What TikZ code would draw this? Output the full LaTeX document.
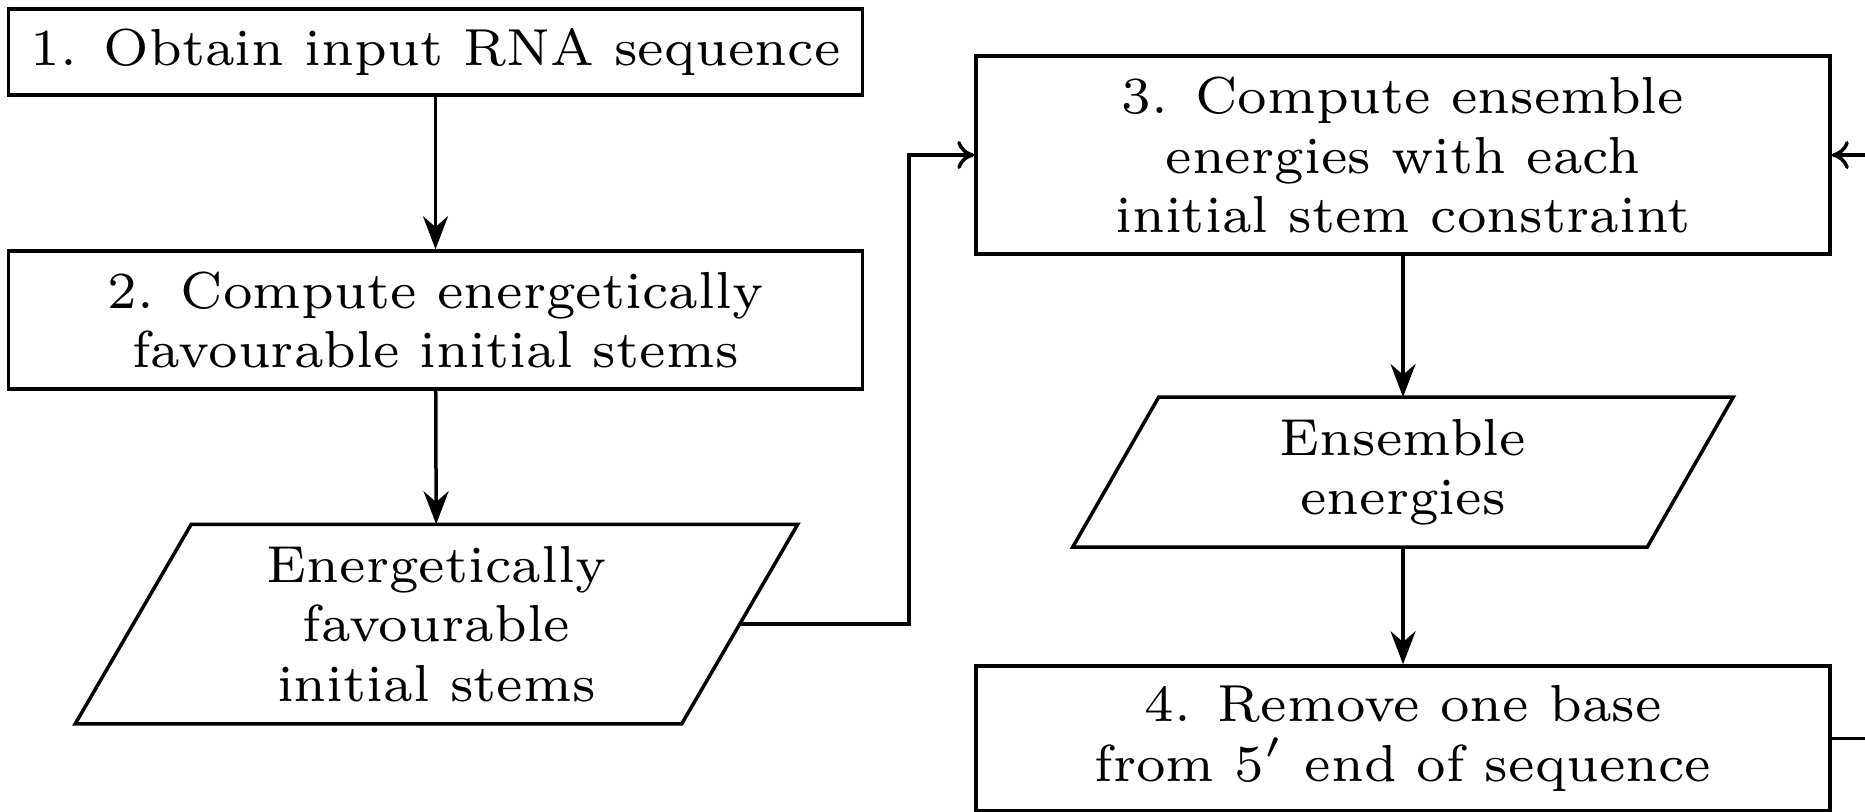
\documentclass[tikz,border=0pt]{standalone}
\usetikzlibrary{calc,arrows.meta}
\def\u{0.13445pt}
\begin{document}
\begin{tikzpicture}[x=\u,y=-\u,
  font=\scriptsize,
  line width=3.5*\u,
  proc/.style={draw,rectangle,align=center,minimum width=854*\u,inner sep=0pt},
  io/.style={rectangle,align=center,inner sep=0pt},
  flow/.style={-{Stealth[length=33*\u,width=25*\u]}},
  feed/.style={-{To[length=17*\u,width=28*\u]}}
]
\useasboundingbox (0,0) rectangle (1865,811);
\clip (0,0) rectangle (1865,811);

\node[proc, minimum height=86*\u] (b1) at (435.5,52) {1. Obtain input RNA sequence};
\node[proc, minimum height=138*\u] (b2) at (435.5,320) {2. Compute energetically\\favourable initial stems};
\node[io, minimum width=719*\u, minimum height=196*\u] (p1) at (436.5,624) {Energetically\\favourable\\initial stems};
\draw ($(p1.north west)+(116,0)$) -- (p1.north east) -- ($(p1.south east)-(116,0)$) -- (p1.south west) -- cycle;
\node[proc, minimum height=198*\u] (b3) at (1403,155) {3. Compute ensemble\\energies with each\\initial stem constraint};
\node[io, minimum width=657*\u, minimum height=146.5*\u] (p2) at (1403,472) {Ensemble\\energies};
\draw ($(p2.north west)+(86,0)$) -- (p2.north east) -- ($(p2.south east)-(86,0)$) -- (p2.south west) -- cycle;
\node[proc, minimum height=145*\u] (b4) at (1403,738.5) {4. Remove one base\\from $5'$ end of sequence};
\coordinate (edge) at (1880,0);
\coordinate (mid) at (909,0);

\draw[flow] (b1) -- (b2);
\draw[flow] (b2) -- (p1);
\draw[feed] ($(p1.east)-(58,0)$) -| (mid |- b3.west) -- (b3.west);
\draw[flow] (b3) -- (p2);
\draw[flow] (p2) -- (b4);
\draw[feed] (b3.east -| edge) -- (b3.east);
\draw (b4.east) -- (b4.east -| edge);
\end{tikzpicture}
\end{document}
